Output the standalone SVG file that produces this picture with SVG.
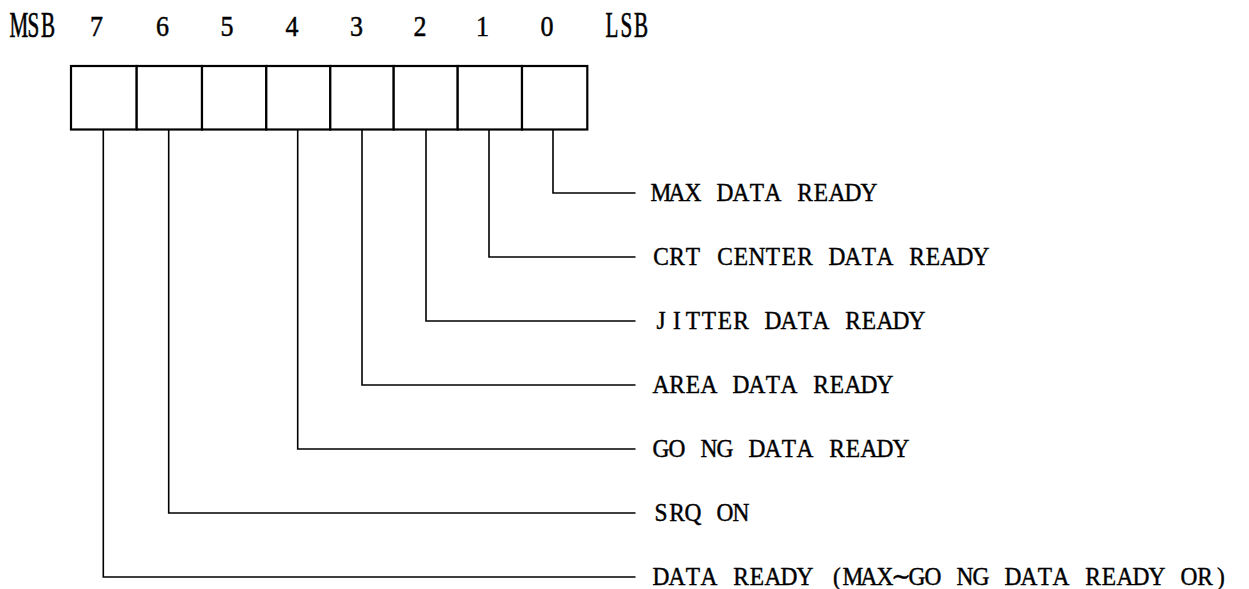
<svg xmlns="http://www.w3.org/2000/svg" width="1249" height="589" viewBox="0 0 1249 589">
  <style>
    .cell { fill: #fff; stroke: #000; stroke-width: 2.2; }
    .wire { fill: none; stroke: #000; stroke-width: 1.6; }
    text { font-family: "Liberation Serif", "DejaVu Serif", serif; fill: #000; stroke: #000; stroke-width: 0.45; text-anchor: middle; }
    .hdr { font-size: 24px; }
    .num { font-size: 26px; }
    .lbl { font-size: 26px; }
  </style>
  <rect width="1249" height="589" fill="#fff"/>

  <!-- bit number header (tall, narrow printer type) -->
  <g id="header">
    <text class="hdr" transform="translate(19,37) scale(0.88,1.45)" x="0 16.48 32.95" y="0">MSB</text>
    <text class="num" transform="translate(96.5,36) scale(1,1.1)">7</text>
    <text class="num" transform="translate(162.5,36) scale(1,1.1)">6</text>
    <text class="num" transform="translate(227,36) scale(1,1.1)">5</text>
    <text class="num" transform="translate(292,36) scale(1,1.1)">4</text>
    <text class="num" transform="translate(356.5,36) scale(1,1.1)">3</text>
    <text class="num" transform="translate(420,36) scale(1,1.1)">2</text>
    <text class="num" transform="translate(482.5,36) scale(1,1.1)">1</text>
    <text class="num" transform="translate(547,36) scale(1,1.1)">0</text>
    <text class="hdr" transform="translate(612,37) scale(0.88,1.45)" x="0 16.48 32.95" y="0">LSB</text>
  </g>

  <!-- register cells, bit 7 on the left -->
  <g id="register">
    <rect id="bit7" class="cell" x="71" y="66" width="65.7" height="63.5"/>
    <rect id="bit6" class="cell" x="136.7" y="66" width="65.3" height="63.5"/>
    <rect id="bit5" class="cell" x="202" y="66" width="64.3" height="63.5"/>
    <rect id="bit4" class="cell" x="266.3" y="66" width="64" height="63.5"/>
    <rect id="bit3" class="cell" x="330.3" y="66" width="63.4" height="63.5"/>
    <rect id="bit2" class="cell" x="393.7" y="66" width="64" height="63.5"/>
    <rect id="bit1" class="cell" x="457.7" y="66" width="64.3" height="63.5"/>
    <rect id="bit0" class="cell" x="522" y="66" width="65.3" height="63.5"/>
  </g>

  <!-- leader lines from each bit to its description -->
  <g id="connectors">
    <polyline class="wire" points="553,130 553,193 635.5,193"/>
    <polyline class="wire" points="489,130 489,257 635.5,257"/>
    <polyline class="wire" points="426,130 426,321 635.5,321"/>
    <polyline class="wire" points="362,130 362,385 635.5,385"/>
    <polyline class="wire" points="297.7,130 297.7,449 635.5,449"/>
    <polyline class="wire" points="168.7,130 168.7,513 635.5,513"/>
    <polyline class="wire" points="103.3,130 103.3,577 635.5,577"/>
  </g>

  <!-- bit descriptions, fixed 16px character pitch -->
  <g id="desc0" transform="translate(653,201) scale(0.9,1)">
    <text class="lbl" x="8.89 26.67 44.44 62.22 80 97.78 115.56 133.33 151.11 168.89 186.67 204.44 222.22 240" y="0">MAX DATA READY</text>
  </g>
  <g id="desc1" transform="translate(653,265) scale(0.9,1)">
    <text class="lbl" x="8.89 26.67 44.44 62.22 80 97.78 115.56 133.33 151.11 168.89 186.67 204.44 222.22 240 257.78 275.56 293.33 311.11 328.89 346.67 364.44" y="0">CRT CENTER DATA READY</text>
  </g>
  <g id="desc2" transform="translate(653,329) scale(0.9,1)">
    <text class="lbl" x="8.89 26.67 44.44 62.22 80 97.78 115.56 133.33 151.11 168.89 186.67 204.44 222.22 240 257.78 275.56 293.33" y="0">JITTER DATA READY</text>
  </g>
  <g id="desc3" transform="translate(653,393) scale(0.9,1)">
    <text class="lbl" x="8.89 26.67 44.44 62.22 80 97.78 115.56 133.33 151.11 168.89 186.67 204.44 222.22 240 257.78" y="0">AREA DATA READY</text>
  </g>
  <g id="desc4" transform="translate(653,457) scale(0.9,1)">
    <text class="lbl" x="8.89 26.67 44.44 62.22 80 97.78 115.56 133.33 151.11 168.89 186.67 204.44 222.22 240 257.78 275.56" y="0">GO NG DATA READY</text>
  </g>
  <g id="desc6" transform="translate(653,521) scale(0.9,1)">
    <text class="lbl" x="8.89 26.67 44.44 62.22 80 97.78" y="0">SRQ ON</text>
  </g>
  <g id="desc7" transform="translate(653,585) scale(0.9,1)">
    <text class="lbl" x="8.89 26.67 44.44 62.22 80 97.78 115.56 133.33 151.11 168.89 186.67 204.44 222.22 240 257.78 275.56 293.33 311.11 328.89 346.67 364.44 382.22 400 417.78 435.56 453.33 471.11 488.89 506.67 524.44 542.22 560 577.78 595.56 613.33 631.11" y="0">DATA READY (MAX∼GO NG DATA READY OR)</text>
  </g>
</svg>
